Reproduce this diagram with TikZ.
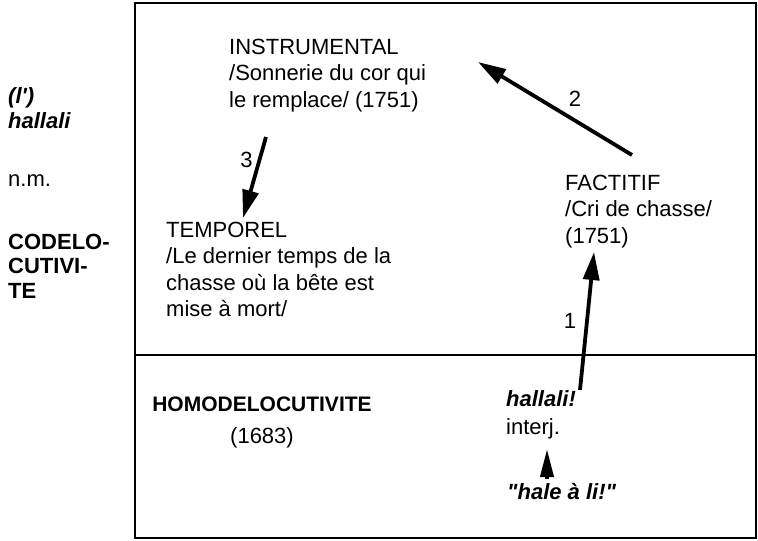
\documentclass[tikz,border=0pt]{standalone}
\usepackage{fontspec}
\setmainfont{Liberation Sans}[Ligatures=TeXOff]
\usetikzlibrary{arrows.meta}

\tikzset{
  txt/.style={anchor=base west,align=left,inner sep=0pt,font=\fontsize{22}{26.5}\selectfont},
  bigarrow/.style={line width=3.8pt,-{Triangle[length=28pt,width=16pt]}},
  num/.style={inner sep=0pt,font=\fontsize{22}{24}\selectfont}
}

\begin{document}
\begin{tikzpicture}[x=1pt,y=-1pt]
	\useasboundingbox (0,0) rectangle (758,541);

	% frame and divider
	\draw[line width=1.8pt] (135,3) rectangle (756,538);
	\draw[line width=1.8pt] (135,355) -- (756,355);

	% left column
	\node[txt,font=\fontsize{22}{25}\selectfont\bfseries\itshape] (entry) at (8,128) {(l')\\hallali};
	\node[txt] (nm) at (8,186) {n.m.};
	\node[txt,font=\fontsize{22}{24.5}\selectfont\bfseries] (codel) at (8,298) {CODELO-\\CUTIVI-\\TE};

	% upper part
	\node[txt] (instr) at (229,107) {INSTRUMENTAL\\/Sonnerie du cor qui\\le remplace/ (1751)};
	\node[txt] (tempo) at (166,316.5) {TEMPOREL\\/Le dernier temps de la\\chasse où la bête est\\mise à mort/};
	\node[txt] (fact) at (565,243) {FACTITIF\\/Cri de chasse/\\(1751)};

	% lower part
	\node[txt,anchor=base,align=center,font=\fontsize{22}{32}\selectfont] (homo) at (262,443) {\textbf{\fontsize{21}{32}\selectfont HOMODELOCUTIVITE}\\(1683)};
	\node[txt,font=\fontsize{22}{28}\selectfont] (interj) at (506,434) {\textbf{\itshape hallali!}\\interj.};
	\node[txt,font=\fontsize{22}{26}\selectfont\bfseries\itshape] (hale) at (507,499) {"hale à li!"};

	% arrows
	\draw[bigarrow] ([xshift=74pt,yshift=44pt]interj.base west) -- ([xshift=29pt,yshift=-9pt]fact.base west)
		node[num,pos=0.5,left=9pt] {1};
	\draw[bigarrow] ([xshift=67pt,yshift=88pt]fact.base west) -- ([xshift=249pt,yshift=45pt]instr.base west)
		node[num,pos=0.37,above=12pt] {2};
	\draw[bigarrow] ([xshift=37pt,yshift=-30pt]instr.base west) -- ([xshift=77pt,yshift=98.5pt]tempo.base west)
		node[num,pos=0.28,left=5pt] {3};
	\draw[bigarrow,-{Triangle[length=28pt,width=13pt]}] ([xshift=40pt,yshift=20pt]hale.base west) -- ([xshift=40pt,yshift=50pt]hale.base west);
\end{tikzpicture}
\end{document}
